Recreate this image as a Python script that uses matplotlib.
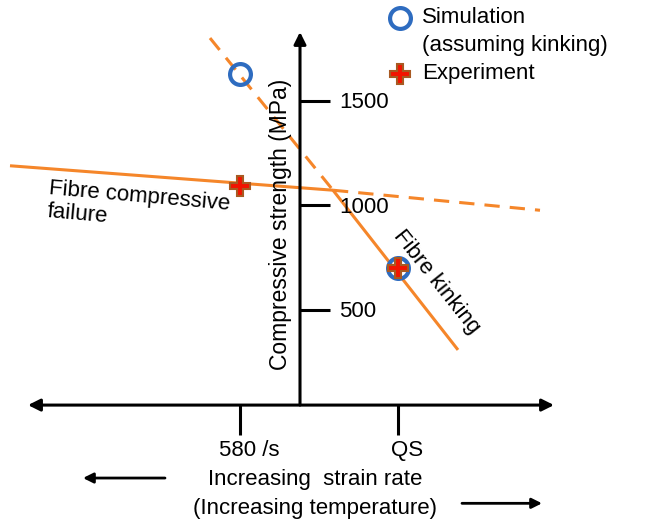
import matplotlib
matplotlib.use('Agg')
import matplotlib.pyplot as plt

plt.rcParams['font.family'] = ['Liberation Sans', 'DejaVu Sans']

# strain-rate positions (arbitrary schematic units) and strengths (MPa)
rate_labels = ['580 /s', 'QS']
rate_x = [-0.60, 0.98]
sim_strength = [1629, 701]
exp_strength = [1093, 701]

# schematic trend lines: solid part, then dashed extrapolation
failure_x = [-2.90, 0.33, 2.40]
failure_y = [1190, 1073, 977]
kinking_x = [-0.90, 0.33, 1.58]
kinking_y = [1801, 1073, 309]

yticks = [500, 1000, 1500]

orange = '#F5862A'
blue = '#2E6CC0'
fs = 16

fig = plt.figure(figsize=(6.49, 5.19), dpi=100)
ax = fig.add_axes([0, 0, 1, 1])
ax.set_xlim(-3.0, 3.49)
ax.set_ylim(-500, 1983)
ax.axis('off')

lw = 2.2
dash = (0, (5, 3.3))

# trend lines
ax.plot(failure_x[:2], failure_y[:2], color=orange, lw=lw, solid_capstyle='butt')
ax.plot(failure_x[1:], failure_y[1:], color=orange, lw=lw, linestyle=dash)
ax.plot(kinking_x[:2], kinking_y[:2], color=orange, lw=lw, linestyle=dash)
ax.plot(kinking_x[1:], kinking_y[1:], color=orange, lw=lw, solid_capstyle='butt')

# axes drawn as arrows
arrow_kw = dict(arrowstyle='-|>', color='black', lw=2.2, mutation_scale=18,
                shrinkA=0, shrinkB=0)
ax.annotate('', xy=(0, 1830), xytext=(0, 45), arrowprops=arrow_kw)
ax.annotate('', xy=(-2.72, 45), xytext=(2.54, 45),
            arrowprops=dict(arrow_kw, arrowstyle='<|-|>'))

for t in yticks:
    ax.plot([0, 0.30], [t, t], color='black', lw=2.2, solid_capstyle='butt')
    ax.text(0.39, t - 8, str(t), fontsize=fs, va='center', ha='left')

for x, lab in zip(rate_x, rate_labels):
    ax.plot([x, x], [45, -98], color='black', lw=2.2, solid_capstyle='butt')
    ax.text(x + 0.09, -172, lab, fontsize=fs, ha='center', va='center')

ax.text(-0.20, 911, 'Compressive strength (MPa)', fontsize=16.5, rotation=90,
        ha='center', va='center')

ax.text(0.15, -313, 'Increasing  strain rate', fontsize=fs, ha='center', va='center')
ax.text(0.15, -450, '(Increasing temperature)', fontsize=fs, ha='center', va='center')
ax.annotate('', xy=(-2.17, -304), xytext=(-1.35, -304),
            arrowprops=dict(arrow_kw, lw=2.0, mutation_scale=15))
ax.annotate('', xy=(2.42, -425), xytext=(1.62, -425),
            arrowprops=dict(arrow_kw, lw=2.0, mutation_scale=15))

# annotations on lines
ax.text(-2.52, 1026, 'Fibre compressive\nfailure', fontsize=fs, ha='left',
        va='center', linespacing=1.15, rotation=-5, rotation_mode='anchor')
ax.text(1.37, 635, 'Fibre kinking', fontsize=fs, rotation=-51.5,
        ha='center', va='center', rotation_mode='anchor')

# data points
ax.plot(rate_x, sim_strength, linestyle='none', marker='o', ms=15,
        mfc='none', mec=blue, mew=3, zorder=5)
ax.plot(rate_x, exp_strength, linestyle='none', marker='P', ms=15,
        mfc='#F21400', mec='#A85A22', mew=1.5, zorder=6)

# legend drawn by hand to match the layout
ax.plot([1.00], [1897], linestyle='none', marker='o', ms=15, mfc='none',
        mec=blue, mew=3, clip_on=False)
ax.text(1.22, 1897, 'Simulation', fontsize=fs, va='center', ha='left')
ax.text(1.22, 1765, '(assuming kinking)', fontsize=fs, va='center', ha='left')
ax.plot([1.00], [1629], linestyle='none', marker='P', ms=15, mfc='#F21400',
        mec='#A85A22', mew=1.5, clip_on=False)
ax.text(1.22, 1629, 'Experiment', fontsize=fs, va='center', ha='left')

fig.savefig('out.png', dpi=100)
